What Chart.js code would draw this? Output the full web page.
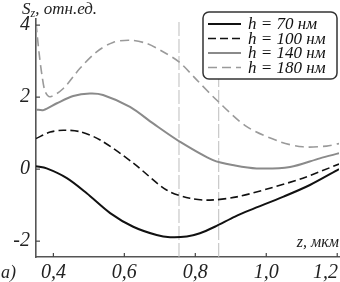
<!DOCTYPE html>
<html>
<head>
<meta charset="utf-8">
<script src="https://cdn.jsdelivr.net/npm/chart.js@4.4.1/dist/chart.umd.min.js"></script>
<style>
    html, body { margin: 0; padding: 0; background: #fff; }
    canvas { display: block; }
</style>
</head>
<body>
<canvas id="szChart" width="340" height="282"></canvas>
<script>
// Datos: z en мкм, S_z en отн.ед.
const z70  = [0.351, 0.381, 0.438, 0.494, 0.560, 0.625, 0.691, 0.729, 0.776, 0.813, 0.855, 0.912, 0.954, 1.047, 1.123, 1.205];
const s70  = [0.08, 0.02, -0.25, -0.67, -1.22, -1.60, -1.83, -1.89, -1.87, -1.78, -1.60, -1.32, -1.14, -0.77, -0.44, 0.00];

const z100 = [0.351, 0.391, 0.428, 0.475, 0.532, 0.625, 0.719, 0.785, 0.841, 0.917, 1.010, 1.103, 1.205];
const s100 = [0.85, 1.03, 1.08, 1.04, 0.81, 0.17, -0.58, -0.81, -0.86, -0.77, -0.53, -0.25, 0.14];

const z140 = [0.351, 0.372, 0.410, 0.456, 0.503, 0.540, 0.616, 0.681, 0.757, 0.850, 0.912, 0.973, 1.067, 1.151, 1.205];
const s140 = [1.66, 1.64, 1.83, 2.03, 2.10, 2.06, 1.73, 1.27, 0.76, 0.25, 0.10, 0.02, 0.06, 0.30, 0.44];

const z180 = [0.351, 0.360, 0.368, 0.377, 0.391, 0.428, 0.475, 0.522, 0.568, 0.616, 0.663, 0.709, 0.754, 0.804, 0.860, 0.945, 1.039, 1.103, 1.170, 1.205];
const s180 = [4.05, 3.20, 2.60, 2.15, 2.01, 2.24, 2.80, 3.26, 3.52, 3.58, 3.49, 3.26, 2.98, 2.48, 1.92, 1.18, 0.76, 0.62, 0.64, 0.71];

const etiquetasH = ['h = 70 нм', 'h = 100 нм', 'h = 140 нм', 'h = 180 нм'];
const zMarcas = [0.754, 0.866];
const xTicks = [0.4, 0.6, 0.8, 1.0, 1.2];
const yTicks = [-2, 0, 2, 4];

const Z_MIN = 0.351, Z_MAX = 1.205;
const S_MIN = -2.44, S_MAX = 4.17;

const FUENTE = '"Liberation Serif", "DejaVu Serif", serif';

function puntos(zs, ss) {
    return zs.map((z, i) => ({ x: z, y: ss[i] }));
}

const estilos = [
    { color: '#111111', dash: [], width: 2 },
    { color: '#111111', dash: [8, 4], width: 1.6 },
    { color: '#8a8a8a', dash: [], width: 2 },
    { color: '#9a9a9a', dash: [9, 5], width: 1.6 }
];
const series = [puntos(z70, s70), puntos(z100, s100), puntos(z140, s140), puntos(z180, s180)];

const datasets = series.map((data, i) => ({
    label: etiquetasH[i],
    data: data,
    borderColor: estilos[i].color,
    borderDash: estilos[i].dash,
    borderWidth: estilos[i].width,
    pointRadius: 0,
    tension: 0.3,
    fill: false
}));

// Líneas verticales de referencia (se dibujan debajo de las curvas)
zMarcas.forEach(zm => {
    datasets.push({
        label: '',
        data: [{ x: zm, y: S_MIN }, { x: zm, y: S_MAX }],
        borderColor: '#bdbdbd',
        borderDash: [14, 3],
        borderWidth: 1,
        pointRadius: 0
    });
});

function linea(ctx, x1, y1, x2, y2) {
    ctx.beginPath();
    ctx.moveTo(x1, y1);
    ctx.lineTo(x2, y2);
    ctx.stroke();
}

const decoraciones = {
    id: 'decoraciones',
    afterDraw(chart) {
        const ctx = chart.ctx;
        const xs = chart.scales.x;
        const ys = chart.scales.y;
        const area = chart.chartArea;
        ctx.save();

        // Marcas hacia dentro
        ctx.strokeStyle = '#444';
        ctx.lineWidth = 1.2;
        ctx.setLineDash([]);
        xTicks.forEach(v => {
            const px = xs.getPixelForValue(v);
            linea(ctx, px, area.bottom, px, area.bottom - 4);
        });
        yTicks.forEach(v => {
            const py = ys.getPixelForValue(v);
            linea(ctx, area.left, py, area.left + 4, py);
        });

        // Etiquetas del eje x
        ctx.fillStyle = '#222';
        ctx.font = 'italic 20px ' + FUENTE;
        ctx.textAlign = 'center';
        ctx.textBaseline = 'alphabetic';
        xTicks.forEach(v => {
            const txt = v.toFixed(1).replace('.', ',');
            const w = ctx.measureText(txt).width;
            const px = Math.min(xs.getPixelForValue(v), chart.width - 2 - w / 2);
            ctx.fillText(txt, px, 278);
        });

        // Títulos de ejes
        ctx.textAlign = 'left';
        ctx.font = 'italic 17px ' + FUENTE;
        ctx.fillText('S', 22, 14);
        let x = 22 + ctx.measureText('S').width;
        ctx.font = 'italic 12px ' + FUENTE;
        ctx.fillText('z', x, 17);
        x += ctx.measureText('z').width;
        ctx.font = 'italic 17px ' + FUENTE;
        ctx.fillText(', отн.ед.', x, 14);

        ctx.font = 'italic 16px ' + FUENTE;
        ctx.textAlign = 'right';
        ctx.fillText('z, мкм', 339, 247);

        ctx.textAlign = 'left';
        ctx.font = 'italic 18px ' + FUENTE;
        ctx.fillText('а)', 1, 278);

        // Leyenda
        const bx = 203, by = 12, bw = 134, bh = 67, r = 6;
        ctx.fillStyle = '#fff';
        ctx.strokeStyle = '#333';
        ctx.lineWidth = 1.5;
        ctx.beginPath();
        ctx.moveTo(bx + r, by);
        ctx.arcTo(bx + bw, by, bx + bw, by + bh, r);
        ctx.arcTo(bx + bw, by + bh, bx, by + bh, r);
        ctx.arcTo(bx, by + bh, bx, by, r);
        ctx.arcTo(bx, by, bx + bw, by, r);
        ctx.closePath();
        ctx.fill();
        ctx.stroke();

        ctx.font = 'italic 17px ' + FUENTE;
        ctx.fillStyle = '#111';
        ctx.textBaseline = 'middle';
        etiquetasH.forEach((txt, i) => {
            const ds = chart.data.datasets[i];
            const yy = 24 + i * 14.5;
            ctx.strokeStyle = ds.borderColor;
            ctx.lineWidth = ds.borderWidth;
            ctx.setLineDash(ds.borderDash);
            linea(ctx, 208, yy, 241, yy);
            ctx.setLineDash([]);
            ctx.fillText(txt, 248, yy + 1);
        });

        ctx.restore();
    }
};

const ctx = document.getElementById('szChart').getContext('2d');
new Chart(ctx, {
    type: 'line',
    data: { datasets: datasets },
    options: {
        responsive: false,
        animation: false,
        devicePixelRatio: 1,
        layout: { padding: { top: 19, right: 1, left: 0, bottom: 0 } },
        plugins: { legend: { display: false }, tooltip: { enabled: false } },
        scales: {
            x: {
                type: 'linear',
                min: Z_MIN,
                max: Z_MAX,
                grid: { display: false, drawTicks: false },
                border: { display: true, color: '#555', width: 1.6 },
                ticks: { display: false },
                afterFit: s => { s.height = 25; }
            },
            y: {
                type: 'linear',
                min: S_MIN,
                max: S_MAX,
                grid: { display: false, drawTicks: false },
                border: { display: true, color: '#555', width: 1.6 },
                afterBuildTicks: s => { s.ticks = yTicks.map(v => ({ value: v })); },
                ticks: {
                    padding: 6,
                    color: '#222',
                    font: { family: FUENTE, size: 20, style: 'italic' },
                    callback: v => String(v)
                },
                afterFit: s => { s.width = 36; }
            }
        }
    },
    plugins: [decoraciones]
});
</script>
</body>
</html>
